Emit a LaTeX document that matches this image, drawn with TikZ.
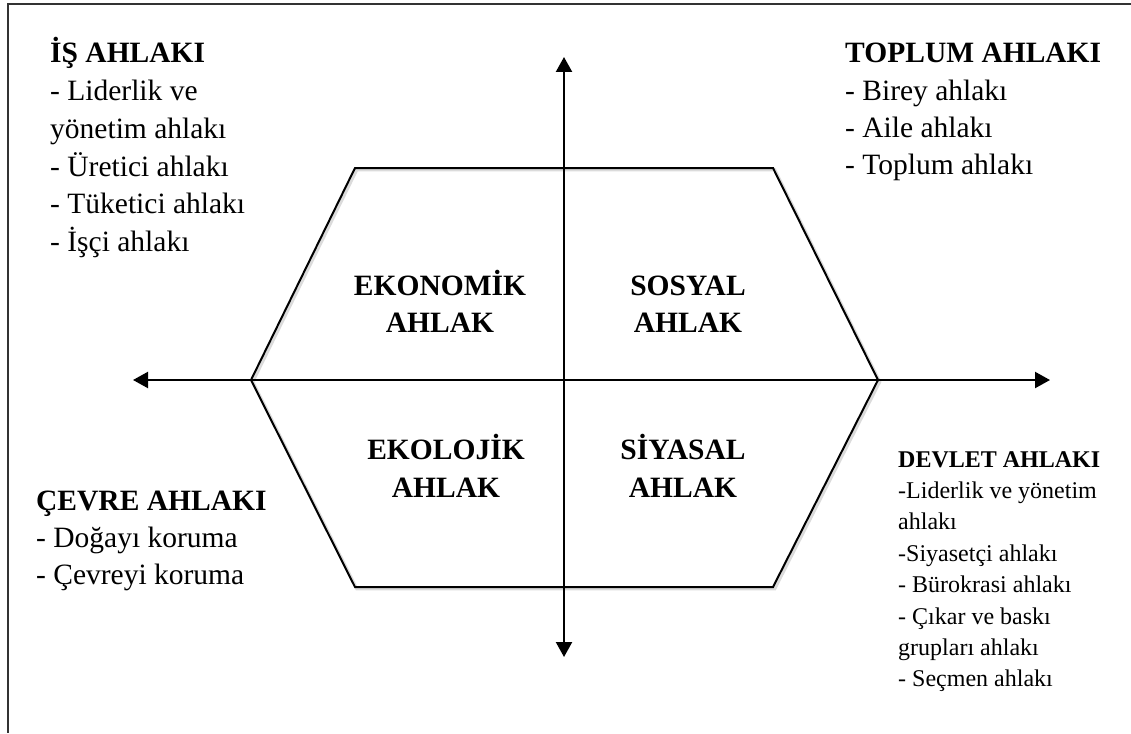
\documentclass[tikz,border=0pt]{standalone}
\usepackage{fontspec}
\setmainfont{Liberation Serif}
\usetikzlibrary{arrows.meta}
\begin{document}
\begin{tikzpicture}[x=1pt,y=-1pt,
  big/.style={font=\fontsize{29.5}{36}\selectfont, inner sep=0pt, anchor=base west},
  bigb/.style={font=\fontsize{29.5}{36}\selectfont\bfseries, inner sep=0pt, anchor=base west},
  small/.style={font=\fontsize{24}{30}\selectfont, inner sep=0pt, anchor=base west},
  smallb/.style={font=\fontsize{24}{30}\selectfont\bfseries, inner sep=0pt, anchor=base west},
  lab/.style={font=\fontsize{29.5}{36}\selectfont\bfseries, inner sep=0pt, anchor=base},
  axis/.style={line width=2.2pt, {Triangle[length=15pt,width=16pt]}-{Triangle[length=15pt,width=16pt]}},
  hexline/.style={line width=2pt, line join=miter},
  hexshadow/.style={line width=3pt, black!14, line join=miter},
  frame/.style={line width=2pt, black!80}]

\useasboundingbox (0,0) rectangle (1131,733);

% frame (top and left only)
\coordinate (fTR) at (1131,4.5);
\coordinate (fTL) at (7.5,4.5);
\coordinate (fBL) at (7.5,733);
\draw[frame] (fTR) -- (fTL) -- (fBL);

% hexagon
\coordinate (h1) at (355,168);
\coordinate (h2) at (773,168);
\coordinate (h3) at (878,380);
\coordinate (h4) at (773,587);
\coordinate (h5) at (355,587);
\coordinate (h6) at (251,380);
\draw[hexshadow] ([xshift=1.8pt,yshift=-1.8pt]h1) -- ([xshift=1.8pt,yshift=-1.8pt]h2) -- ([xshift=1.8pt,yshift=-1.8pt]h3) -- ([xshift=1.8pt,yshift=-1.8pt]h4) -- ([xshift=1.8pt,yshift=-1.8pt]h5) -- ([xshift=1.8pt,yshift=-1.8pt]h6) -- cycle;
\draw[hexline] (h1) -- (h2) -- (h3) -- (h4) -- (h5) -- (h6) -- cycle;

% axes
\coordinate (aL) at (133,380);
\coordinate (aR) at (1050,380);
\coordinate (aT) at (564,57);
\coordinate (aB) at (564,657);
\draw[axis] (aL) -- (aR);
\draw[axis] (aT) -- (aB);

% centre labels
\node[lab] (eko1) at (440,295) {EKONOMİK};
\node[lab] (eko2) at (440,332) {AHLAK};
\node[lab] (sos1) at (688,295) {SOSYAL};
\node[lab] (sos2) at (688,332) {AHLAK};
\node[lab] (ekl1) at (446,459) {EKOLOJİK};
\node[lab] (ekl2) at (446,497) {AHLAK};
\node[lab] (siy1) at (683,459) {SİYASAL};
\node[lab] (siy2) at (683,497) {AHLAK};

% İŞ AHLAKI
\node[bigb] (is0) at (50,63) {İŞ AHLAKI};
\node[big] (is1) at (50,100.7) {- Liderlik ve};
\node[big] (is2) at (50,138.4) {yönetim ahlakı};
\node[big] (is3) at (50,176.1) {- Üretici ahlakı};
\node[big] (is4) at (50,213.8) {- Tüketici ahlakı};
\node[big] (is5) at (50,251.5) {- İşçi ahlakı};

% TOPLUM AHLAKI
\node[bigb] (to0) at (845,63) {TOPLUM AHLAKI};
\node[big] (to1) at (845,100.3) {- Birey ahlakı};
\node[big] (to2) at (845,137.6) {- Aile ahlakı};
\node[big] (to3) at (845,174.9) {- Toplum ahlakı};

% ÇEVRE AHLAKI
\node[bigb] (ce0) at (36,510) {ÇEVRE AHLAKI};
\node[big] (ce1) at (36,547) {- Doğayı koruma};
\node[big] (ce2) at (36,584) {- Çevreyi koruma};

% DEVLET AHLAKI
\node[smallb] (de0) at (898,467) {DEVLET AHLAKI};
\node[small] (de1) at (898,498.4) {-Liderlik ve yönetim};
\node[small] (de2) at (898,529.8) {ahlakı};
\node[small] (de3) at (898,561.2) {-Siyasetçi ahlakı};
\node[small] (de4) at (898,592.6) {- Bürokrasi ahlakı};
\node[small] (de5) at (898,624.0) {- Çıkar ve baskı};
\node[small] (de6) at (898,655.4) {grupları ahlakı};
\node[small] (de7) at (898,686.8) {- Seçmen ahlakı};
\end{tikzpicture}
\end{document}
